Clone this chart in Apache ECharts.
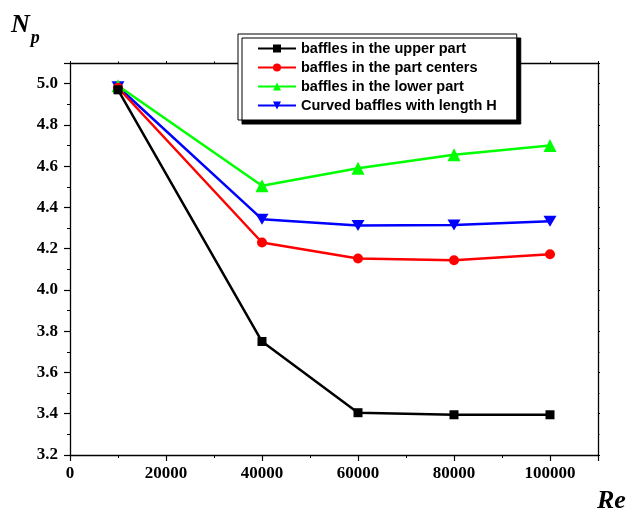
<!DOCTYPE html>
<html><head><meta charset="utf-8">
<script src="https://cdn.jsdelivr.net/npm/echarts@6/dist/echarts.min.js"></script>
<style>html,body{margin:0;padding:0;background:#fff}#c{width:633px;height:516px}</style>
</head><body><div id="c"></div>
<script>
const reValues = [10000, 40000, 60000, 80000, 100000];
const seriesNames = ['baffles in the upper part','baffles in the part centers','baffles in the lower part','Curved baffles with length H'];
const upperPart = [4.97, 3.75, 3.405, 3.395, 3.395];
const partCenters = [4.98, 4.23, 4.152, 4.144, 4.173];
const lowerPart = [4.99, 4.505, 4.59, 4.655, 4.70];
const curvedH = [4.985, 4.343, 4.312, 4.315, 4.333];
const seriesColors = ['#000000','#ff0000','#00ff00','#0000ff'];
const seriesSymbols = ['rect','circle','triangle','path://M0,0 L10,0 L5,10 Z'];
const seriesSizes = [9, 10, 13, 13];
const allData = [upperPart, partCenters, lowerPart, curvedH];

const chart = echarts.init(document.getElementById('c'), null, {renderer:'canvas'});
const tickFont = {fontFamily:'Liberation Serif', fontWeight:'bold', fontSize:17, color:'#000'};
const frameLine = {show:true, onZero:false, lineStyle:{color:'#000', width:1.3}};

chart.setOption({
  animation:false,
  backgroundColor:'#fff',
  grid:{left:70, right:35, top:63, bottom:61, containLabel:false},
  legend:{
    orient:'vertical', left:238, top:34,
    padding:[7,20,7,19],
    itemWidth:38, itemHeight:10, itemGap:4,
    backgroundColor:'#fff', borderColor:'#000', borderWidth:1,
    shadowColor:'#000', shadowBlur:0, shadowOffsetX:4, shadowOffsetY:4,
    textStyle:{fontFamily:'Liberation Sans', fontWeight:'bold', fontSize:14.5, lineHeight:15, color:'#000', padding:[0,0,0,0]},
    data:seriesNames
  },
  xAxis:[{
    type:'value', min:0, max:110000, interval:20000,
    axisLine:frameLine,
    axisTick:{show:true, inside:false, length:6, lineStyle:{color:'#000', width:1.2}},
    minorTick:{show:true, splitNumber:2, length:3, lineStyle:{color:'#000', width:1}},
    splitLine:{show:false},
    axisLabel:Object.assign({margin:10, showMaxLabel:false, formatter:v=> v>100000?'':String(v)}, tickFont)
  },{
    type:'value', position:'top', min:0, max:110000, interval:20000,
    axisLine:frameLine,
    axisTick:{show:true, length:2, lineStyle:{color:'#000'}},
    minorTick:{show:true, splitNumber:2, length:1.5, lineStyle:{color:'#000'}},
    splitLine:{show:false}, axisLabel:{show:false}
  }],
  yAxis:[{
    type:'value', min:3.2, max:5.1, interval:0.2,
    axisLine:frameLine,
    axisTick:{show:true, inside:false, length:6, lineStyle:{color:'#000', width:1.2}},
    minorTick:{show:true, splitNumber:2, length:3, lineStyle:{color:'#000', width:1}},
    splitLine:{show:false},
    axisLabel:Object.assign({margin:12, showMaxLabel:false, formatter:v=> v>5.05?'':v.toFixed(1)}, tickFont)
  },{
    type:'value', position:'right', min:3.2, max:5.1, interval:0.2,
    axisLine:frameLine,
    axisTick:{show:true, length:2, lineStyle:{color:'#000'}},
    minorTick:{show:true, splitNumber:2, length:1.5, lineStyle:{color:'#000'}},
    splitLine:{show:false}, axisLabel:{show:false}
  }],
  series: seriesNames.map((n,i)=>({
    name:n, type:'line', xAxisIndex:0, yAxisIndex:0,
    data: reValues.map((x,j)=>[x, allData[i][j]]),
    symbol: seriesSymbols[i], symbolSize: i===3 ? [13,11] : seriesSizes[i],
    showAllSymbol:true,
    itemStyle:{color:seriesColors[i], borderWidth:0},
    lineStyle:{color:seriesColors[i], width:2.5},
    z: 10 - i
  })),
  graphic:[
    {type:'text', left:11, top:12, style:{
      text:'{n|N}{p|p}', rich:{
        n:{fontFamily:'Liberation Serif', fontStyle:'italic', fontWeight:'bold', fontSize:26, fill:'#000'},
        p:{fontFamily:'Liberation Serif', fontStyle:'italic', fontWeight:'bold', fontSize:18, fill:'#000', padding:[26,0,0,1]}
      }}},
    {type:'text', left:597, top:488, style:{
      text:'Re', fontFamily:'Liberation Serif', fontStyle:'italic', fontWeight:'bold', fontSize:26, fill:'#000'}}
  ]
});
</script></body></html>
